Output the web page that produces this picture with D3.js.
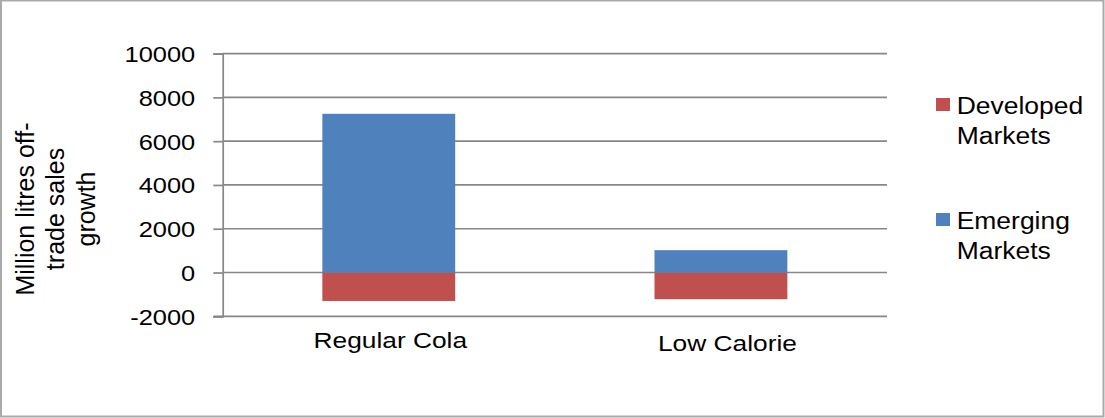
<!DOCTYPE html>
<html>
<head>
<meta charset="utf-8">
<script src="https://cdn.jsdelivr.net/npm/d3@7"></script>
<style>
  html, body { margin: 0; padding: 0; background: #fff; }
  svg { display: block; font-family: "Liberation Sans", Arial, sans-serif; }
</style>
</head>
<body>
<svg id="chart" width="1105" height="418"></svg>
<script>
// Off-trade sales growth by cola type, split by market group (million litres)
const categories = ["Regular Cola", "Low Calorie"];
const seriesNames = ["Developed Markets", "Emerging Markets"];
const developed = [-1300, -1220];
const emerging = [7250, 1020];
const yTicks = [-2000, 0, 2000, 4000, 6000, 8000, 10000];
const axisTitle = ["Million litres off-", "trade sales", "growth"];
const legendLines = [["Developed", "Markets"], ["Emerging", "Markets"]];
const colors = ["#C0504D", "#4F81BD"];

const svg = d3.select("#chart");
const W = 1105, H = 418;

// outer chart frame
svg.append("rect")
  .attr("x", 1).attr("y", 0.5)
  .attr("width", W - 2.5).attr("height", H - 2)
  .attr("fill", "#fff")
  .attr("stroke", "#a9a9a9")
  .attr("stroke-width", 2);

const plot = { left: 222.7, right: 887, top: 53.6, bottom: 316.3 };

const x = d3.scaleBand()
  .domain(categories)
  .range([plot.left, plot.right])
  .paddingInner(0.6)
  .paddingOuter(0.3);

const y = d3.scaleLinear()
  .domain([-2000, 10000])
  .range([plot.bottom, plot.top]);

const gridColor = "#878787";

// horizontal gridlines (the -2000 line doubles as the category axis)
svg.append("g")
  .selectAll("line")
  .data(yTicks)
  .join("line")
  .attr("x1", d => d === -2000 ? plot.left - 9 : plot.left)
  .attr("x2", plot.right)
  .attr("y1", d => y(d)).attr("y2", d => y(d))
  .attr("stroke", gridColor)
  .attr("stroke-width", 1.7);

// value axis with tick labels (plain hyphen for negatives)
const tickSX = 1.13;
const yAxis = svg.append("g")
  .attr("transform", `translate(${plot.left},0)`)
  .call(d3.axisLeft(y).tickValues(yTicks).tickSize(9.4).tickPadding(0).tickFormat(d => String(d)));
yAxis.select(".domain").attr("stroke", gridColor).attr("stroke-width", 1.7);
yAxis.selectAll(".tick line").attr("stroke", gridColor).attr("stroke-width", 1.7);
yAxis.selectAll(".tick text")
  .attr("x", -27.5 / tickSX)
  .attr("dy", "0.35em")
  .attr("transform", `scale(${tickSX},1)`)
  .attr("fill", "#000")
  .style("font-size", "22.5px")
  .style("font-family", "'Liberation Sans', Arial, sans-serif");

// stacked bars: emerging above zero, developed below
const rows = categories.map((c, i) => ({
  cat: c,
  "Developed Markets": developed[i],
  "Emerging Markets": emerging[i]
}));
const stacked = d3.stack()
  .keys(seriesNames)
  .offset(d3.stackOffsetDiverging)(rows);

svg.append("g")
  .selectAll("g")
  .data(stacked)
  .join("g")
  .attr("fill", (d, i) => colors[i])
  .selectAll("rect")
  .data(d => d)
  .join("rect")
  .attr("x", d => x(d.data.cat))
  .attr("width", x.bandwidth())
  .attr("y", d => y(Math.max(d[0], d[1])))
  .attr("height", d => Math.abs(y(d[0]) - y(d[1])));

// category labels (the second label sits a little right and lower)
const catSX = 1.17;
const labelNudge = [[1.5, 0], [6.5, 3]];
const xAxis = svg.append("g")
  .attr("transform", `translate(0,${plot.bottom})`)
  .call(d3.axisBottom(x).tickSize(0).tickPadding(0));
xAxis.select(".domain").remove();
xAxis.selectAll(".tick text")
  .attr("x", (d, i) => labelNudge[i][0] / catSX)
  .attr("y", (d, i) => 31.5 + labelNudge[i][1])
  .attr("dy", null)
  .attr("transform", `scale(${catSX},1)`)
  .attr("fill", "#000")
  .style("font-size", "22.5px")
  .style("font-family", "'Liberation Sans', Arial, sans-serif");

// rotated value-axis title
const title = svg.append("text")
  .attr("transform", "translate(0,209) rotate(-90)")
  .attr("text-anchor", "middle")
  .style("font-size", "25px")
  .attr("fill", "#000");
title.selectAll("tspan")
  .data(axisTitle)
  .join("tspan")
  .attr("x", 0)
  .attr("y", (d, i) => 33.5 + i * 30.5)
  .text(d => d);

// legend
const legSX = 1.08;
const legend = svg.append("g")
  .selectAll("g")
  .data(seriesNames)
  .join("g")
  .attr("transform", (d, i) => `translate(936,${98 + i * 115})`);
legend.append("rect")
  .attr("width", 14).attr("height", 13)
  .attr("fill", (d, i) => colors[i]);
legend.append("text")
  .attr("transform", `translate(20.7,16.3) scale(${legSX},1)`)
  .style("font-size", "24.5px")
  .attr("fill", "#000")
  .selectAll("tspan")
  .data((d, i) => legendLines[i])
  .join("tspan")
  .attr("x", 0)
  .attr("y", (d, i) => i * 29.5)
  .text(d => d);
</script>
</body>
</html>
